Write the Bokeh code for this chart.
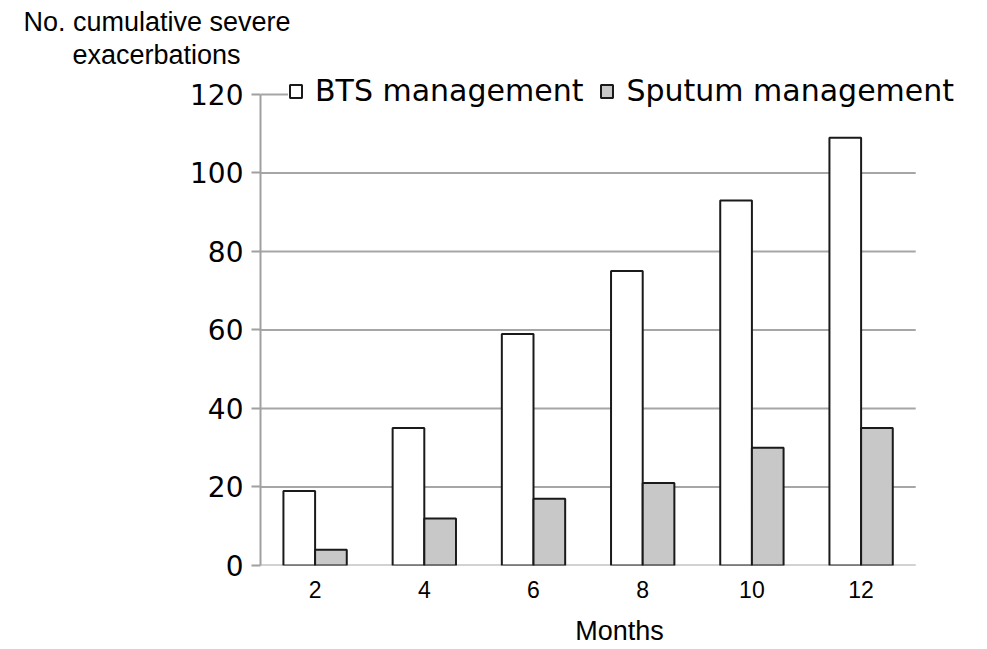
from bokeh.plotting import figure
from bokeh.models import (Range1d, FixedTicker, Legend, LegendItem,
                          Title, ColumnDataSource)
from bokeh.transform import dodge
from bokeh.embed import file_html
from bokeh.resources import INLINE

months = [2, 4, 6, 8, 10, 12]
bts = [19, 35, 59, 75, 93, 109]
sputum = [4, 12, 17, 21, 30, 35]
y_ticks = [0, 20, 40, 60, 80, 100, 120]
series_names = ["BTS management", "Sputum management"]
y_title_lines = ["No. cumulative severe", "exacerbations"]
x_title = "Months"

src = ColumnDataSource(dict(months=months, bts=bts, sputum=sputum))

# x extent: one category (2 months) on each side of the first/last bar group
x_lo, x_hi = months[0] - 1, months[-1] + 1

p = figure(width=982, height=648, x_range=Range1d(x_lo, 14.15),
           y_range=Range1d(0, 126.1), output_backend="svg", toolbar_location=None,
           min_border_left=260, min_border_right=4, min_border_top=70,
           min_border_bottom=83, title=None)
p.outline_line_color = None
p.background_fill_color = "white"
p.xgrid.grid_line_color = None
p.ygrid.grid_line_color = None

# horizontal grid lines at the y ticks, spanning the category extent
grid_src = ColumnDataSource(dict(y=y_ticks, x0=[x_lo] * len(y_ticks),
                                 x1=[x_hi] * len(y_ticks)))
p.segment(x0="x0", x1="x1", y0="y", y1="y", source=grid_src,
          line_color="#a6a6a6", line_width=2)

r1 = p.vbar(x=dodge("months", -0.29), top="bts", width=0.58,
            source=src, fill_color="white", line_color="#1a1a1a", line_width=2)
r2 = p.vbar(x=dodge("months", 0.29), top="sputum", width=0.58,
            source=src, fill_color="#c8c8c8", line_color="#1a1a1a", line_width=2)

p.yaxis.ticker = FixedTicker(ticks=y_ticks)
p.yaxis.bounds = (0, 120)
p.yaxis.major_label_text_font = "DejaVu Sans"
p.yaxis.major_label_text_font_size = "28px"
p.yaxis.major_label_text_color = "black"
p.yaxis.axis_line_color = "#a0a0a0"
p.yaxis.axis_line_width = 2
p.yaxis.major_tick_line_color = "#a0a0a0"
p.yaxis.major_tick_line_width = 2
p.yaxis.major_tick_out = 9
p.yaxis.major_tick_in = 0
p.yaxis.minor_tick_line_color = None
p.yaxis.major_label_standoff = 8

p.xaxis.ticker = FixedTicker(ticks=months)
p.xaxis.major_label_text_font = "Liberation Sans"
p.xaxis.major_label_text_font_size = "23px"
p.xaxis.major_label_text_color = "black"
p.xaxis.axis_label = x_title
p.xaxis.axis_label_text_font = "Liberation Sans"
p.xaxis.axis_label_text_font_size = "27px"
p.xaxis.axis_label_text_font_style = "normal"
p.xaxis.axis_label_text_color = "black"
p.xaxis.major_tick_line_color = None
p.xaxis.minor_tick_line_color = None
p.xaxis.axis_line_color = None
p.xaxis.major_label_standoff = 9
p.xaxis.axis_label_standoff = 15

legend = Legend(items=[LegendItem(label=series_names[0], renderers=[r1]),
                       LegendItem(label=series_names[1], renderers=[r2])],
                orientation="horizontal", location=(28, 457),
                label_text_font="DejaVu Sans", label_text_font_size="30px",
                label_text_color="black",
                glyph_width=15, glyph_height=16, label_standoff=12, spacing=16,
                padding=4, margin=0, border_line_color=None,
                background_fill_color="white", background_fill_alpha=1)
p.add_layout(legend)

t2 = Title(text=y_title_lines[1], align="left", offset=-188, text_font="Liberation Sans",
           text_font_size="27px", text_font_style="normal", text_color="black",
           standoff=2)
p.add_layout(t2, "above")
t1 = Title(text=y_title_lines[0], align="left", offset=-237, text_font="Liberation Sans",
           text_font_size="27px", text_font_style="normal", text_color="black",
           standoff=0)
p.add_layout(t1, "above")

open("out.html", "w").write(file_html(p, INLINE))
